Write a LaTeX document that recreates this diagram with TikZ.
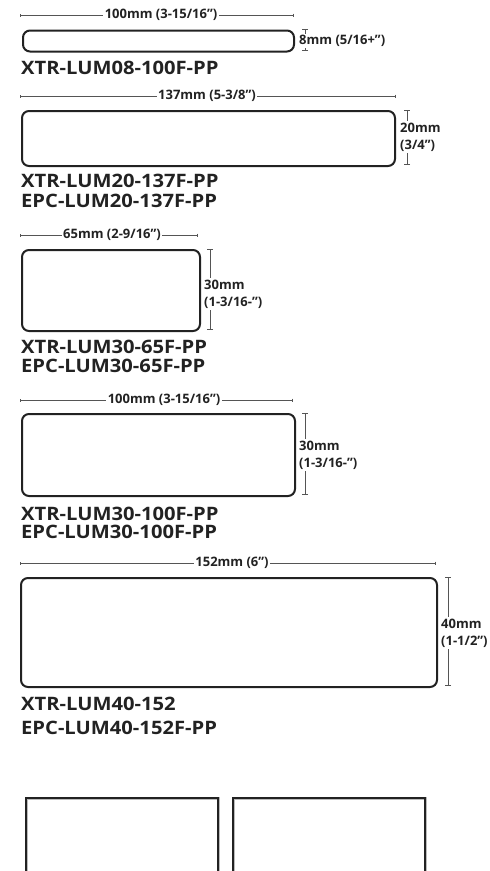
\documentclass[tikz,border=0pt]{standalone}
\usepackage{fontspec}
\setmainfont{Open Sans}
\newfontfamily\partfont[FakeStretch=1.09]{Open Sans}
\usetikzlibrary{arrows.meta}
\definecolor{ink}{HTML}{222222}
\definecolor{dimc}{HTML}{555555}
\definecolor{halo}{HTML}{BBBBBB}
\begin{document}
\begin{tikzpicture}[x=1pt,y=-1pt,
  lab/.style={draw=ink, line width=2pt, rounded corners=7pt, inner sep=0pt, anchor=north west},
  plainbox/.style={draw=ink, line width=2.4pt, inner sep=0pt, anchor=north west},
  dimline/.style={draw=dimc, line width=0.8pt, {Bar[width=3pt]}-{Bar[width=3pt]}},
  vdimline/.style={draw=dimc, line width=0.8pt, {Bar[width=6pt]}-{Bar[width=6pt]}},
  dimtext/.style={fill=white, inner sep=1.5pt, text=ink, font=\fontsize{13}{17}\selectfont\bfseries},
  vdimtext/.style={dimtext, anchor=west, align=left, inner xsep=1pt},
  part/.style={anchor=base west, inner sep=0pt, text=ink, font=\partfont\fontsize{18.5}{20}\selectfont\bfseries}]
\useasboundingbox (0,0) rectangle (490,871);
\clip (0,0) rectangle (490,871);
\fill[white] (0,0) rectangle (490,871);

% ---- label 1
\coordinate (h1a) at (20,15); \coordinate (h1b) at (294,15);
\draw[dimline] (h1a) -- (h1b);
\node[dimtext] (h1t) at (161,15) {100mm (3-15/16”)};
\node[lab, minimum width=271pt, minimum height=21pt] (r1) at (22,29.5) {};
\coordinate (v1a) at (305,29); \coordinate (v1b) at (305,51);
\draw[vdimline] (v1a) -- (v1b);
\node[vdimtext] (v1t) at (298,41) {8mm (5/16+”)};
\node[part] (p1) at (21,74) {XTR-LUM08-100F-PP};

% ---- label 2
\coordinate (h2a) at (20,96); \coordinate (h2b) at (396,96);
\draw[dimline] (h2a) -- (h2b);
\node[dimtext] (h2t) at (207,96) {137mm (5-3/8”)};
\node[lab, minimum width=373pt, minimum height=55pt] (r2) at (21,110) {};
\coordinate (v2a) at (407,110); \coordinate (v2b) at (407,165);
\draw[vdimline] (v2a) -- (v2b);
\node[vdimtext] (v2t) at (399,137) {20mm\\(3/4”)};
\node[part] (p2a) at (21,187) {XTR-LUM20-137F-PP};
\node[part] (p2b) at (21,207) {EPC-LUM20-137F-PP};

% ---- label 3
\coordinate (h3a) at (20,235); \coordinate (h3b) at (198,235);
\draw[dimline] (h3a) -- (h3b);
\node[dimtext] (h3t) at (112,235) {65mm (2-9/16”)};
\node[lab, minimum width=178pt, minimum height=81pt] (r3) at (21,249) {};
\coordinate (v3a) at (210,249); \coordinate (v3b) at (210,330);
\draw[vdimline] (v3a) -- (v3b);
\node[vdimtext] (v3t) at (203,294) {30mm\\(1-3/16-”)};
\node[part] (p3a) at (21,353) {XTR-LUM30-65F-PP};
\node[part] (p3b) at (21,372) {EPC-LUM30-65F-PP};

% ---- label 4
\coordinate (h4a) at (20,400); \coordinate (h4b) at (293,400);
\draw[dimline] (h4a) -- (h4b);
\node[dimtext] (h4t) at (164,400) {100mm (3-15/16”)};
\node[lab, minimum width=273pt, minimum height=82pt] (r4) at (21,413) {};
\coordinate (v4a) at (305,413); \coordinate (v4b) at (305,495);
\draw[vdimline] (v4a) -- (v4b);
\node[vdimtext] (v4t) at (298,455) {30mm\\(1-3/16-”)};
\node[part] (p4a) at (21,520) {XTR-LUM30-100F-PP};
\node[part] (p4b) at (21,538) {EPC-LUM30-100F-PP};

% ---- label 5
\coordinate (h5a) at (20,563); \coordinate (h5b) at (436,563);
\draw[dimline] (h5a) -- (h5b);
\node[dimtext] (h5t) at (232,563) {152mm (6”)};
\node[lab, minimum width=416pt, minimum height=109pt] (r5) at (20,577) {};
\coordinate (v5a) at (448,577); \coordinate (v5b) at (448,686);
\draw[vdimline] (v5a) -- (v5b);
\node[vdimtext] (v5t) at (440,633) {40mm\\(1-1/2”)};
\node[part] (p5a) at (21,710) {XTR-LUM40-152};
\node[part] (p5b) at (21,734) {EPC-LUM40-152F-PP};

% ---- bottom boxes
\node[plainbox, draw=halo, line width=3.4pt, minimum width=192pt, minimum height=78pt] (b1h) at (25,796.5) {};
\node[plainbox, minimum width=192pt, minimum height=78pt] (b1) at (25,796.5) {};
\node[plainbox, draw=halo, line width=3.4pt, minimum width=192pt, minimum height=78pt] (b2h) at (231.5,796.5) {};
\node[plainbox, minimum width=192pt, minimum height=78pt] (b2) at (231.5,796.5) {};
\end{tikzpicture}
\end{document}
